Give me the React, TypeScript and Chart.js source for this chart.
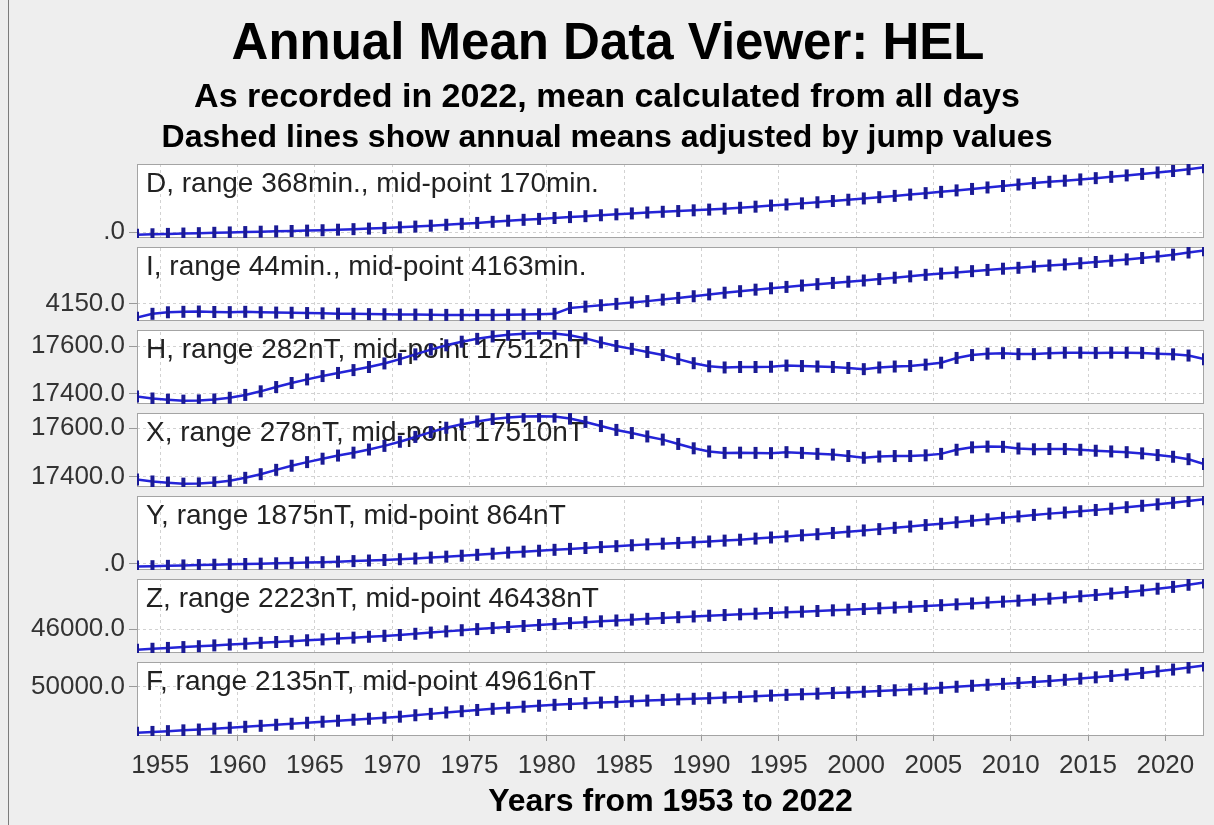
import React, { useEffect, useRef } from 'react';
import { Chart, registerables } from 'chart.js';

Chart.register(...registerables);

// ---------- data ----------
const YEARS = [
  1953, 1954, 1955, 1956, 1957, 1958, 1959, 1960, 1961, 1962,
  1963, 1964, 1965, 1966, 1967, 1968, 1969, 1970, 1971, 1972,
  1973, 1974, 1975, 1976, 1977, 1978, 1979, 1980, 1981, 1982,
  1983, 1984, 1985, 1986, 1987, 1988, 1989, 1990, 1991, 1992,
  1993, 1994, 1995, 1996, 1997, 1998, 1999, 2000, 2001, 2002,
  2003, 2004, 2005, 2006, 2007, 2008, 2009, 2010, 2011, 2012,
  2013, 2014, 2015, 2016, 2017, 2018, 2019, 2020, 2021, 2022,
];

// D (minutes)
const D_VALUES = [
  -14, -12, -10, -8, -6, -4, -2, 0, 2, 4,
  6, 8, 10, 13, 16, 19, 22, 26, 30, 35,
  40, 45, 50, 56, 62, 67, 72, 77, 82, 87,
  92, 97, 102, 107, 111, 115, 119, 123, 128, 133,
  139, 145, 151, 157, 163, 170, 177, 184, 191, 198,
  205, 213, 220, 228, 236, 244, 252, 260, 268, 275,
  281, 288, 295, 302, 310, 318, 326, 334, 344, 354,
];

// I (minutes)
const I_VALUES = [
  4141, 4143.5, 4144.5, 4144.8, 4145, 4144.7, 4144.6, 4144.8, 4144.5, 4144.3,
  4144.2, 4144, 4143.8, 4143.6, 4143.5, 4143.3, 4143.2, 4143, 4143, 4142.9,
  4142.8, 4142.8, 4142.7, 4142.8, 4142.9, 4143, 4143.2, 4143.5, 4147.3, 4148.2,
  4149.1, 4150, 4150.9, 4151.8, 4152.8, 4153.9, 4155, 4156.2, 4157.3, 4158.3,
  4159.3, 4160.2, 4161.1, 4162, 4162.9, 4163.7, 4164.5, 4165.3, 4166.2, 4167.1,
  4168, 4169, 4169.8, 4170.6, 4171.4, 4172.2, 4173, 4173.6, 4174.4, 4175.1,
  4175.8, 4176.6, 4177.4, 4178.2, 4179.1, 4180, 4181, 4182.2, 4183.6, 4185,
];

// H (nT)
const H_VALUES = [
  17388, 17380, 17375, 17371, 17372, 17376, 17383, 17395, 17410, 17428,
  17445, 17460, 17474, 17487, 17499, 17512, 17527, 17545, 17565, 17585,
  17603, 17618, 17630, 17640, 17647, 17651, 17653, 17652, 17645, 17632,
  17615, 17600, 17588, 17575, 17562, 17545, 17528, 17515, 17510, 17512,
  17512, 17513, 17518, 17516, 17514, 17512, 17508, 17503, 17510, 17514,
  17516, 17522, 17530, 17550, 17562, 17568, 17570, 17566, 17566, 17570,
  17572, 17572, 17571, 17572, 17572, 17571, 17568, 17565, 17560, 17545,
];

// X (nT)
const X_VALUES = [
  17388, 17380, 17375, 17371, 17372, 17376, 17383, 17395, 17410, 17428,
  17445, 17460, 17474, 17487, 17499, 17512, 17527, 17544, 17564, 17584,
  17602, 17616, 17628, 17638, 17644, 17648, 17649, 17648, 17640, 17626,
  17609, 17593, 17580, 17566, 17553, 17535, 17517, 17504, 17498, 17499,
  17498, 17497, 17501, 17498, 17494, 17491, 17485, 17478, 17483, 17485,
  17485, 17488, 17494, 17511, 17521, 17524, 17523, 17516, 17513, 17514,
  17514, 17511, 17507, 17504, 17501, 17496, 17489, 17482, 17472, 17452,
];

// Y (nT)
const Y_VALUES = [
  -73, -61, -51, -40, -30, -20, -10, 0, 10, 20,
  30, 41, 51, 66, 81, 97, 112, 133, 153, 179,
  205, 231, 256, 287, 318, 344, 370, 395, 421, 446,
  471, 497, 522, 547, 567, 587, 607, 627, 652, 677,
  708, 739, 769, 800, 830, 865, 901, 936, 972, 1008,
  1044, 1085, 1121, 1163, 1205, 1246, 1287, 1327, 1368, 1404,
  1435, 1471, 1506, 1542, 1583, 1623, 1663, 1704, 1754, 1802,
];

// Z (nT)
const Z_VALUES = [
  45326, 45355, 45383, 45411, 45439, 45467, 45495, 45523, 45551, 45579,
  45607, 45636, 45665, 45694, 45723, 45752, 45781, 45810, 45850, 45890,
  45930, 45968, 46005, 46040, 46075, 46108, 46140, 46172, 46203, 46233,
  46262, 46290, 46318, 46345, 46372, 46398, 46423, 46447, 46470, 46493,
  46515, 46537, 46559, 46581, 46603, 46625, 46647, 46670, 46693, 46717,
  46742, 46768, 46795, 46823, 46852, 46882, 46913, 46945, 46978, 47012,
  47050, 47090, 47133, 47180, 47230, 47283, 47340, 47400, 47470, 47549,
];

// F (nT)
const F_VALUES = [
  48548, 48571, 48596, 48621, 48647, 48675, 48703, 48734, 48765, 48798,
  48830, 48862, 48895, 48926, 48958, 48989, 49022, 49055, 49100, 49144,
  49188, 49229, 49268, 49304, 49339, 49372, 49402, 49432, 49458, 49482,
  49503, 49524, 49546, 49566, 49587, 49605, 49623, 49641, 49660, 49683,
  49703, 49724, 49747, 49766, 49786, 49806, 49825, 49845, 49869, 49893,
  49917, 49944, 49972, 50005, 50036, 50067, 50096, 50125, 50156, 50189,
  50225, 50263, 50303, 50347, 50394, 50443, 50495, 50550, 50614, 50683,
];

const PANEL_LABELS = [
  'D, range 368min., mid-point 170min.',
  'I, range 44min., mid-point 4163min.',
  'H, range 282nT, mid-point 17512nT',
  'X, range 278nT, mid-point 17510nT',
  'Y, range 1875nT, mid-point 864nT',
  'Z, range 2223nT, mid-point 46438nT',
  'F, range 2135nT, mid-point 49616nT',
];
const PANEL_RANGES = [368, 44, 282, 278, 1875, 2223, 2135];
const PANEL_MIDPOINTS = [170, 4163, 17512, 17510, 864, 46438, 49616];

const Y_TICK_VALUES = [[0], [4150], [17400, 17600], [17400, 17600], [0], [46000], [50000]];
const Y_TICK_LABELS = [['.0'], ['4150.0'], ['17400.0', '17600.0'], ['17400.0', '17600.0'], ['.0'], ['46000.0'], ['50000.0']];

const X_TICK_VALUES = [1955, 1960, 1965, 1970, 1975, 1980, 1985, 1990, 1995, 2000, 2005, 2010, 2015, 2020];
const X_TICK_LABELS = ['1955', '1960', '1965', '1970', '1975', '1980', '1985', '1990', '1995', '2000', '2005', '2010', '2015', '2020'];

const TITLE = 'Annual Mean Data Viewer: HEL';
const SUBTITLES = [
  'As recorded in 2022, mean calculated from all days',
  'Dashed lines show annual means adjusted by jump values',
];
const X_TITLE = 'Years from 1953 to 2022';

const SERIES = [D_VALUES, I_VALUES, H_VALUES, X_VALUES, Y_VALUES, Z_VALUES, F_VALUES];

// ---------- layout / style ----------
const W = 1214;
const H = 825;
const FONT = '"Liberation Sans", Arial, Helvetica, sans-serif';
const BG = '#eeeeee';
const PLOT_LEFT = 137;
const PANEL_TOP = 164;
const PANEL_PITCH = 83;
const PANEL_HEIGHT = 74;
const X_AXIS_HEIGHT = H - (PANEL_TOP + (SERIES.length - 1) * PANEL_PITCH + PANEL_HEIGHT);

function panelBox(i: number) {
  const top = PANEL_TOP + i * PANEL_PITCH;
  return { top, bottom: top + PANEL_HEIGHT };
}

const panelPlugin = {
  id: 'panels',
  afterLayout(chart: any) {
    SERIES.forEach((_, i) => {
      const s = chart.scales['y' + i];
      const { top, bottom } = panelBox(i);
      s.top = top;
      s.bottom = bottom;
      s.height = bottom - top;
      s.configure();
      s._gridLineItems = null;
      s._labelItems = null;
    });
  },
  beforeDraw(chart: any) {
    const ctx = chart.ctx;
    const { left, right } = chart.chartArea;
    ctx.save();
    ctx.fillStyle = BG;
    ctx.fillRect(0, 0, chart.width, chart.height);
    ctx.fillStyle = '#7c7c7c';
    ctx.fillRect(8, 0, 1, chart.height);
    ctx.fillStyle = '#ffffff';
    SERIES.forEach((_, i) => {
      const { top, bottom } = panelBox(i);
      ctx.fillRect(left, top, right - left, bottom - top);
    });
    ctx.fillStyle = '#000000';
    ctx.textAlign = 'center';
    ctx.textBaseline = 'alphabetic';
    ctx.font = `bold 51px ${FONT}`;
    ctx.fillText(TITLE, 608, 59);
    ctx.font = `bold 34px ${FONT}`;
    ctx.fillText(SUBTITLES[0], 607, 107);
    ctx.font = `bold 32px ${FONT}`;
    ctx.fillText(SUBTITLES[1], 607, 147);
    ctx.restore();
  },
  beforeDatasetsDraw(chart: any) {
    const ctx = chart.ctx;
    const { left, right } = chart.chartArea;
    ctx.save();
    ctx.fillStyle = BG;
    for (let i = 0; i < SERIES.length - 1; i++) {
      const a = panelBox(i);
      const b = panelBox(i + 1);
      ctx.fillRect(left, a.bottom, right - left, b.top - a.bottom);
    }
    ctx.strokeStyle = '#a4a4a4';
    ctx.lineWidth = 1;
    SERIES.forEach((_, i) => {
      const { top, bottom } = panelBox(i);
      ctx.strokeRect(left + 0.5, top + 0.5, right - left - 1, bottom - top - 1);
    });
    ctx.fillStyle = '#222222';
    ctx.textAlign = 'left';
    ctx.textBaseline = 'alphabetic';
    ctx.font = `28px ${FONT}`;
    PANEL_LABELS.forEach((label, i) => {
      const { top } = panelBox(i);
      ctx.fillText(label, left + 9, top + 28);
    });
    ctx.restore();
  },
};

export default function App() {
  const ref = useRef<HTMLCanvasElement | null>(null);

  useEffect(() => {
    if (!ref.current) return;

    const scales: any = {
      x: {
        type: 'linear',
        position: 'bottom',
        min: 1953.5,
        max: 2022.5,
        bounds: 'data',
        afterBuildTicks: (axis: any) => {
          axis.ticks = X_TICK_VALUES.map((v) => ({ value: v }));
        },
        afterFit: (axis: any) => {
          axis.height = X_AXIS_HEIGHT;
        },
        ticks: {
          autoSkip: false,
          maxRotation: 0,
          minRotation: 0,
          padding: 9,
          color: '#333333',
          font: { family: FONT, size: 26 },
          callback: (v: number) => {
            const k = X_TICK_VALUES.indexOf(v);
            return k >= 0 ? X_TICK_LABELS[k] : '';
          },
        },
        grid: {
          color: '#d2d2d2',
          lineWidth: 1,
          drawTicks: true,
          tickLength: 5,
          tickColor: '#9a9a9a',
          tickBorderDash: [],
        },
        border: { display: false, dash: [3, 3] },
        title: {
          display: true,
          text: X_TITLE,
          color: '#000000',
          font: { family: FONT, size: 32, weight: 'bold' },
          padding: { top: 0, bottom: 4 },
        },
      },
    };

    SERIES.forEach((_, i) => {
      const half = PANEL_RANGES[i] * 0.55;
      scales['y' + i] = {
        type: 'linear',
        position: 'left',
        stack: 'panels',
        stackWeight: 1,
        bounds: 'data',
        min: PANEL_MIDPOINTS[i] - half,
        max: PANEL_MIDPOINTS[i] + half,
        afterBuildTicks: (axis: any) => {
          axis.ticks = Y_TICK_VALUES[i].map((v) => ({ value: v }));
        },
        afterFit: (axis: any) => {
          axis.width = PLOT_LEFT;
        },
        ticks: {
          autoSkip: false,
          padding: 4,
          color: '#333333',
          font: { family: FONT, size: 26 },
          callback: (v: number) => {
            const k = Y_TICK_VALUES[i].indexOf(v);
            return k >= 0 ? Y_TICK_LABELS[i][k] : '';
          },
        },
        grid: {
          color: '#d2d2d2',
          lineWidth: 1,
          drawTicks: true,
          tickLength: 8,
          tickColor: '#9a9a9a',
          tickBorderDash: [],
        },
        border: { display: false, dash: [3, 3] },
      };
    });

    const chart = new Chart(ref.current, {
      type: 'line',
      data: {
        datasets: SERIES.map((vals, i) => ({
          label: PANEL_LABELS[i],
          data: YEARS.map((yr, k) => ({ x: yr + 0.5, y: vals[k] })),
          xAxisID: 'x',
          yAxisID: 'y' + i,
          borderColor: '#2424d8',
          borderWidth: 2.5,
          pointStyle: 'line',
          pointRotation: 90,
          pointRadius: 6,
          pointBorderWidth: 4,
          pointBorderColor: '#1a1a94',
          pointBackgroundColor: '#1a1a94',
          tension: 0,
          fill: false,
        })),
      },
      options: {
        responsive: false,
        animation: false,
        events: [],
        layout: { padding: { left: 0, right: 8, top: PANEL_TOP, bottom: 0 } },
        plugins: {
          legend: { display: false },
          tooltip: { enabled: false },
          title: { display: false },
        },
        scales,
      } as any,
      plugins: [panelPlugin],
    });

    return () => chart.destroy();
  }, []);

  return (
    <div style={{ position: 'fixed', left: 0, top: 0, width: W, height: H, background: BG }}>
      <canvas ref={ref} width={W} height={H} style={{ display: 'block', width: W, height: H }} />
    </div>
  );
}
